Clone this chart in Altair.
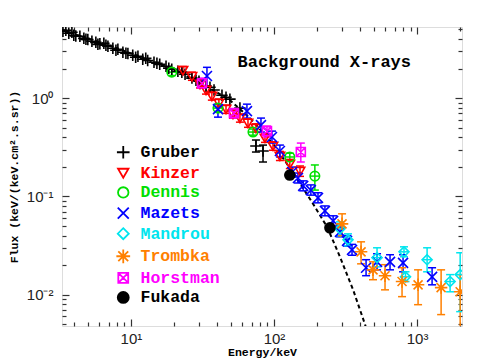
import altair as alt
import pandas as pd

# ---------------- data ----------------
names = ["Gruber", "Kinzer", "Dennis", "Mazets", "Mandrou", "Trombka", "Horstman", "Fukada"]
colors = ["#000000", "#ff0000", "#00e000", "#0000ff", "#00e5ee", "#ff8000", "#ff00ff", "#000000"]
fills = ["transparent", "transparent", "transparent", "transparent", "transparent",
         "transparent", "transparent", "#000000"]
shapes = [
    "M-1.15,0L1.15,0M0,-1.15L0,1.15",                                      # plus
    "M-0.95,-0.75L0.95,-0.75L0,0.9Z",                                      # down triangle
    "M0.95,0A0.95,0.95,0,1,1,-0.95,0A0.95,0.95,0,1,1,0.95,0Z",             # circle
    "M-1,-1L1,1M-1,1L1,-1",                                                # cross
    "M0,-1L1,0L0,1L-1,0Z",                                                 # diamond
    "M-1.25,0L1.25,0M0,-1.25L0,1.25M-0.9,-0.9L0.9,0.9M-0.9,0.9L0.9,-0.9",  # asterisk
    "M-0.9,-0.9L0.9,-0.9L0.9,0.9L-0.9,0.9ZM-0.9,-0.9L0.9,0.9M-0.9,0.9L0.9,-0.9",  # boxed cross
    "M1,0A1,1,0,1,1,-1,0A1,1,0,1,1,1,0Z",                                  # filled circle
]

gruber_E = [3.35, 3.51, 3.68, 3.87, 3.99, 4.12, 4.40, 4.69, 4.85, 5.00, 5.34, 5.69, 5.88, 6.07,
            6.47, 6.69, 6.91, 7.48, 7.86, 8.11, 8.79, 9.23, 9.53, 10.3, 10.8, 11.2, 12.1, 12.7,
            13.1, 14.5, 15.2, 15.9, 17.6, 18.4, 19.3, 21.3, 22.7, 23.9, 26.7, 28.5, 29.9, 33.5,
            35.7, 38.1, 43.3, 46.2, 49.2, 57.8, 74.8, 83.8]
gruber_F = [4.79, 4.90, 4.57, 4.68, 4.36, 4.30, 4.26, 4.06, 3.97, 3.95, 3.79, 3.70, 3.53, 3.58,
            3.62, 3.45, 3.37, 3.22, 3.07, 3.14, 2.93, 2.86, 2.85, 2.73, 2.61, 2.67, 2.49, 2.55,
            2.42, 2.32, 2.27, 2.21, 2.11, 2.02, 1.97, 1.88, 1.84, 1.75, 1.60, 1.52, 1.49, 1.33,
            1.29, 1.21, 1.07, 1.02, 0.977, 0.792, 0.326, 0.290]
gruber_lo = gruber_F[:-2] + [0.283, 0.224]
gruber_hi = gruber_F[:-2] + [0.375, 0.333]

kinzer_E = [23.1, 26.7, 30.4, 33.5, 36.8, 41.2, 46.2, 51.7, 57.8, 65.8, 74.8, 86.5, 98.4, 110, 129, 152]
kinzer_F = [1.92, 1.67, 1.39, 1.21, 1.05, 0.890, 0.773, 0.688, 0.627, 0.558, 0.496, 0.393, 0.326, 0.258, 0.214, 0.181]
kinzer_lo = [1.75, 1.52, 1.27, 1.10, 0.955, 0.81, 0.70, 0.625, 0.57, 0.505, 0.45, 0.355, 0.295, 0.232, 0.192, 0.160]
kinzer_hi = [2.10, 1.84, 1.53, 1.33, 1.16, 0.98, 0.85, 0.757, 0.69, 0.615, 0.548, 0.435, 0.36, 0.287, 0.238, 0.204]

dennis_E = [19.3, 40.6, 71.3, 129, 193]
dennis_F = [1.84, 0.792, 0.452, 0.252, 0.161]
dennis_lo = [1.70, 0.73, 0.42, 0.232, 0.116]
dennis_hi = [1.98, 0.86, 0.485, 0.275, 0.209]

mazets_E = [34.0, 40.6, 64.7, 81.1, 96.8, 110, 134, 147, 160, 181, 203, 227, 259, 289, 324, 351,
            440, 525, 647, 798, 1273]
mazets_F = [1.68, 0.773, 0.738, 0.532, 0.402, 0.290, 0.177, 0.154, 0.128, 0.116, 0.0966, 0.0713,
            0.0564, 0.0436, 0.0353, 0.0286, 0.0188, 0.0216, 0.0216, 0.0211, 0.0152]
mazets_lo = [1.32, 0.641, 0.627, 0.452, 0.349, 0.252, 0.157, 0.137, 0.114, 0.103, 0.086, 0.0635,
             0.050, 0.0388, 0.0312, 0.0252, 0.0156, 0.0179, 0.0179, 0.0171, 0.0126]
mazets_hi = [2.06, 0.869, 0.869, 0.627, 0.462, 0.333, 0.199, 0.173, 0.144, 0.131, 0.109, 0.080,
             0.0635, 0.049, 0.040, 0.0325, 0.0227, 0.0261, 0.0255, 0.0255, 0.0188]

mandrou_E = [289, 329, 525, 810, 830, 1175, 1701, 2000]
mandrou_F = [0.0468, 0.0362, 0.0238, 0.0273, 0.0152, 0.0227, 0.0136, 0.0160]
mandrou_lo = [0.0397, 0.0314, 0.0192, 0.0243, 0.0136, 0.0171, 0.0107, 0.00672]
mandrou_hi = [0.0551, 0.0416, 0.0300, 0.0307, 0.0171, 0.0300, 0.0160, 0.0267]

trombka_E = [299, 406, 492, 597, 785, 1016, 1472, 2000]
trombka_F = [0.0526, 0.0273, 0.0179, 0.0156, 0.0136, 0.0126, 0.0118, 0.0107]
trombka_lo = [0.0397, 0.0206, 0.0142, 0.0112, 0.00955, 0.00791, 0.00627, 0.00441]
trombka_hi = [0.0665, 0.0345, 0.0216, 0.0202, 0.0188, 0.0179, 0.0179, 0.0160]

horstman_E = [31.4, 52.5, 89.3, 154]
horstman_F = [1.42, 0.704, 0.462, 0.283]
horstman_lo = [1.26, 0.627, 0.402, 0.224]
horstman_hi = [1.60, 0.773, 0.520, 0.349]

fukada_E = [129, 246]
fukada_F = [0.165, 0.0479]
fukada_lo = [0.165, 0.0479]
fukada_hi = [0.165, 0.0479]

model_E = [3.29, 6.07, 10, 18.7, 30.4, 49.2, 67.9, 100, 129, 184, 235, 289, 357, 433, 454]
model_F = [4.90, 3.70, 2.86, 2.02, 1.45, 0.954, 0.627, 0.333, 0.195, 0.0879, 0.0490, 0.0243,
           0.01124, 0.00496, 0.00393]

x_major = [10, 100, 1000]
x_labels = ["10¹", "10²", "10³"]
x_minor = [4, 5, 6, 7, 8, 9, 20, 30, 40, 50, 60, 70, 80, 90,
           200, 300, 400, 500, 600, 700, 800, 900, 2000]
y_major = [0.01, 0.1, 1]
y_labels = ["10⁻²", "10⁻¹", "10⁰"]
y_minor = [0.005, 0.006, 0.007, 0.008, 0.009, 0.02, 0.03, 0.04, 0.05, 0.06, 0.07, 0.08, 0.09,
           0.2, 0.3, 0.4, 0.5, 0.6, 0.7, 0.8, 0.9, 2, 3, 4, 5]

chart_title = "Background X-rays"
x_title = "Energy/keV"
y_title = "Flux (keV/(keV.cm².s.sr))"

# ---------------- build tables ----------------
series = [
    ("Gruber", gruber_E, gruber_F, gruber_lo, gruber_hi),
    ("Kinzer", kinzer_E, kinzer_F, kinzer_lo, kinzer_hi),
    ("Dennis", dennis_E, dennis_F, dennis_lo, dennis_hi),
    ("Mazets", mazets_E, mazets_F, mazets_lo, mazets_hi),
    ("Mandrou", mandrou_E, mandrou_F, mandrou_lo, mandrou_hi),
    ("Trombka", trombka_E, trombka_F, trombka_lo, trombka_hi),
    ("Horstman", horstman_E, horstman_F, horstman_lo, horstman_hi),
    ("Fukada", fukada_E, fukada_F, fukada_lo, fukada_hi),
]
colmap = dict(zip(names, colors))
rows = []
for name, E, F, lo, hi in series:
    for e, f, l, h in zip(E, F, lo, hi):
        rows.append({"series": name, "E": e, "F": f, "lo": l, "hi": h, "col": colmap[name]})
df = pd.DataFrame(rows)
df_model = pd.DataFrame({"E": model_E, "F": model_F})

W, H = 400, 299
xs = alt.Scale(type="log", domain=[3.3, 2060], nice=False)
ys = alt.Scale(type="log", domain=[0.0048, 5.3], nice=False)

MONO = "Liberation Mono"
SANS = "Liberation Sans"

# ---------------- data layers ----------------
model_line = alt.Chart(df_model).mark_line(
    color="black", strokeDash=[4, 3], strokeWidth=2, clip=True
).encode(
    x=alt.X("E:Q", scale=xs, axis=None),
    y=alt.Y("F:Q", scale=ys, axis=None),
)

err_base = alt.Chart(df).transform_filter("datum.hi > datum.lo")
err_rule = err_base.mark_rule(strokeWidth=1.5, clip=True).encode(
    x=alt.X("E:Q", scale=xs, axis=None),
    y=alt.Y("lo:Q", scale=ys, axis=None),
    y2="hi:Q",
    color=alt.Color("col:N", scale=None),
)
cap_lo = err_base.mark_point(
    shape="M-1,0L1,0", size=64, strokeWidth=1.5, filled=False, opacity=1, clip=True
).encode(
    x=alt.X("E:Q", scale=xs, axis=None),
    y=alt.Y("lo:Q", scale=ys, axis=None),
    color=alt.Color("col:N", scale=None),
)
cap_hi = err_base.mark_point(
    shape="M-1,0L1,0", size=64, strokeWidth=1.5, filled=False, opacity=1, clip=True
).encode(
    x=alt.X("E:Q", scale=xs, axis=None),
    y=alt.Y("hi:Q", scale=ys, axis=None),
    color=alt.Color("col:N", scale=None),
)
hbar = alt.Chart(df).transform_filter(
    "datum.series == 'Dennis' || datum.series == 'Mandrou'"
).mark_point(
    shape="M-1,0L1,0", size=90, strokeWidth=1.5, filled=False, opacity=1, clip=True
).encode(
    x=alt.X("E:Q", scale=xs, axis=None),
    y=alt.Y("F:Q", scale=ys, axis=None),
    color=alt.Color("col:N", scale=None),
)

label_color_expr = " : ".join(
    f"datum.label == '{n}' ? '{c}'" for n, c in zip(names, colors)
) + " : 'black'"

leg = alt.Legend(
    title=None, orient="none", legendX=53, legendY=117, direction="vertical",
    padding=0, symbolSize=121, symbolStrokeWidth=1.8, labelFont=MONO,
    labelFontSize=16.5, labelFontWeight="bold", labelOffset=9, rowPadding=1.6,
    labelColor={"expr": label_color_expr},
)
points = alt.Chart(df).mark_point(size=100, strokeWidth=1.6, opacity=1, clip=True).encode(
    x=alt.X("E:Q", scale=xs, axis=None),
    y=alt.Y("F:Q", scale=ys, axis=None),
    shape=alt.Shape("series:N", scale=alt.Scale(domain=names, range=shapes), legend=leg),
    stroke=alt.Stroke("series:N", scale=alt.Scale(domain=names, range=colors), legend=leg),
    fill=alt.Fill("series:N", scale=alt.Scale(domain=names, range=fills), legend=leg),
)

# ---------------- axes (labels outside, ticks inside on all sides) ----------------
def lab_expr(vals, labs):
    return " : ".join(f"datum.value == {v} ? '{t}'" for v, t in zip(vals, labs)) + " : ''"

x_all = sorted(x_major + x_minor)
y_all = sorted(y_major + y_minor)
tsx = {"condition": {"test": f"indexof({x_major}, datum.value) >= 0", "value": 7}, "value": 4}
tsy = {"condition": {"test": f"indexof({y_major}, datum.value) >= 0", "value": 7}, "value": 4}

tick_common = dict(labels=False, domain=False, grid=False, tickWidth=1.2,
                   tickColor="#333333", title=None)

x_lab = alt.Axis(orient="bottom", values=x_major, labelExpr=lab_expr(x_major, x_labels),
                 ticks=False, tickSize=0, domain=False, grid=False, labelPadding=5,
                 labelFont=SANS, labelFontSize=15, labelColor="#222222",
                 title=x_title, titleFont=MONO, titleFontWeight="bold", titleFontSize=11.5,
                 titleColor="black", titlePadding=0)
y_lab = alt.Axis(orient="left", values=y_major, labelExpr=lab_expr(y_major, y_labels),
                 ticks=False, tickSize=0, domain=False, grid=False, labelPadding=9,
                 labelFont=SANS, labelFontSize=15, labelColor="#222222",
                 title=y_title, titleFont=MONO, titleFontWeight="bold", titleFontSize=11.5,
                 titleColor="black", titlePadding=7)

x_in_bottom = alt.Axis(orient="top", offset=-H, values=x_all, tickSize=tsx, **tick_common)
x_in_top = alt.Axis(orient="bottom", offset=-H, values=x_all, tickSize=tsx, **tick_common)
y_in_left = alt.Axis(orient="right", offset=-W, values=y_all, tickSize=tsy, **tick_common)
y_in_right = alt.Axis(orient="left", offset=-W, values=y_all, tickSize=tsy, **tick_common)


def axis_layer(xa, ya):
    return alt.Chart(df_model).mark_point(opacity=0, clip=True).encode(
        x=alt.X("E:Q", scale=xs, axis=xa),
        y=alt.Y("F:Q", scale=ys, axis=ya),
    )


chart = alt.layer(
    model_line, err_rule, cap_lo, cap_hi, hbar, points,
    axis_layer(x_lab, y_lab),
    axis_layer(x_in_bottom, y_in_left),
    axis_layer(x_in_top, y_in_right),
).resolve_axis(
    x="independent", y="independent"
).properties(
    width=W, height=H,
    autosize=alt.AutoSizeParams(type="none"),
    padding={"left": 54, "top": 19, "right": 17, "bottom": 37},
    title=alt.TitleParams(
        text=chart_title, anchor="end", frame="group", orient="top", offset=0,
        dx=-51, dy=62, baseline="bottom", font=MONO, fontSize=17,
        fontWeight="bold", color="black",
    ),
).configure_view(
    stroke="#4a4a4a", strokeWidth=2.2
).configure(background="white")

chart.save("out.html", embed_options={"renderer": "svg", "actions": False})
